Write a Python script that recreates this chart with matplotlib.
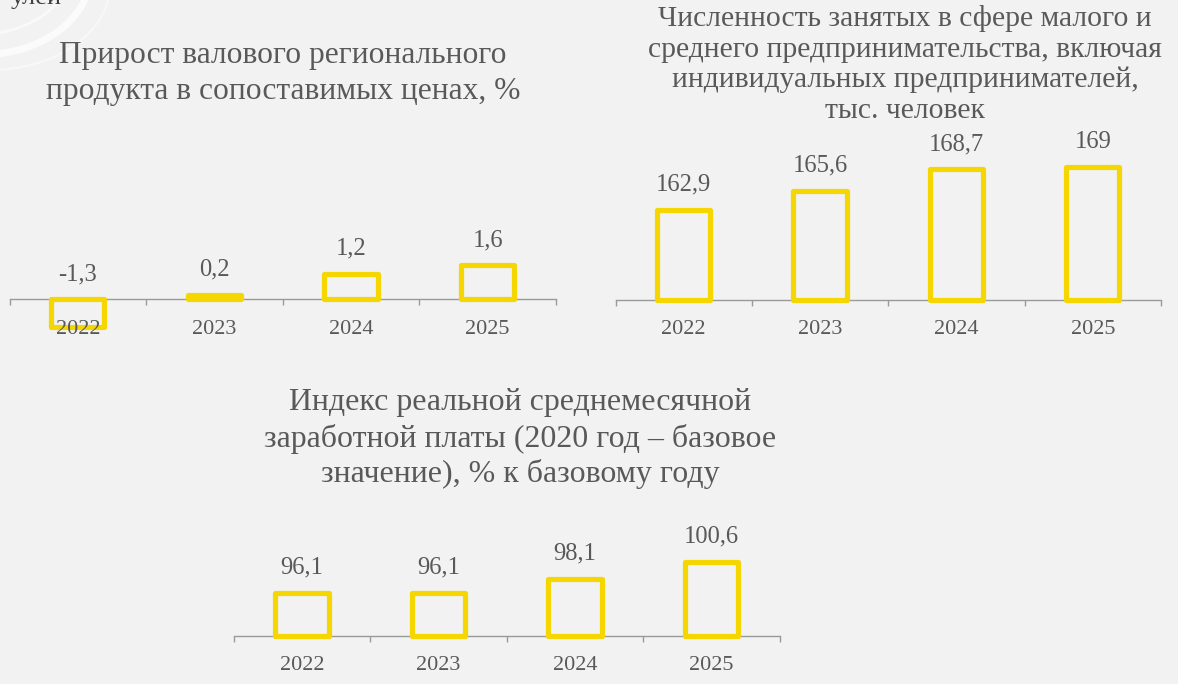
import matplotlib
matplotlib.use("Agg")
import matplotlib.pyplot as plt
from matplotlib.patches import Arc

# ---------------- data ----------------
years = ["2022", "2023", "2024", "2025"]
grp_growth = [-1.3, 0.2, 1.2, 1.6]
sme_employed = [162.9, 165.6, 168.7, 169.0]
real_wage_index = [96.1, 96.1, 98.1, 100.6]

title1 = ["Прирост валового регионального",
          "продукта в сопоставимых ценах, %"]
title2 = ["Численность занятых в сфере малого и",
          "среднего предпринимательства, включая",
          "индивидуальных предпринимателей,",
          "тыс. человек"]
title3 = ["Индекс реальной среднемесячной",
          "заработной платы (2020 год – базовое",
          "значение), % к базовому году"]

# ---------------- style ----------------
W, H = 1178, 684
BG = "#f2f2f2"
TXT = "#595959"
YEL = "#f5d600"
AXC = "#9a9a9a"
FONT = ["Liberation Serif", "DejaVu Serif"]
plt.rcParams["font.family"] = FONT

fig = plt.figure(figsize=(W / 100, H / 100), dpi=100, facecolor=BG)

# background decoration
bg = fig.add_axes([0, 0, 1, 1], zorder=-5)
bg.set_xlim(0, W)
bg.set_ylim(H, 0)
bg.axis("off")
bg.patch.set_alpha(0)
bg.add_patch(Arc((-20, -25), 220, 160, lw=5, color="white", alpha=0.75))
bg.add_patch(Arc((-25, -30), 190, 130, lw=2, color="white", alpha=0.6))
bg.add_patch(Arc((-10, -15), 240, 170, lw=1.5, color="white", alpha=0.5))
fig.text(62 / W, 1 - 4 / H, "улей", fontsize=19, color="#404040", va="baseline", ha="right")


def px_axes(x0, x1, y0, y1):
    ax = fig.add_axes([x0 / W, 1 - y1 / H, (x1 - x0) / W, (y1 - y0) / H])
    ax.patch.set_alpha(0)
    return ax


def style_axes(ax):
    for s in ["left", "right", "top"]:
        ax.spines[s].set_visible(False)
    ax.spines["bottom"].set_color(AXC)
    ax.spines["bottom"].set_linewidth(1.0)
    ax.set_xlim(-0.5, len(years) - 0.5)
    ax.set_xticks([i - 0.5 for i in range(len(years) + 1)])
    ax.set_xticklabels([])
    ax.tick_params(axis="x", length=4.3, width=1.0, color=AXC, direction="out")
    ax.set_yticks([])


def fmt(v):
    return f"{v:g}".replace(".", ",")


def draw_bars(ax, vals, base):
    x = list(range(len(vals)))
    ax.bar(x, [v - base for v in vals], bottom=base, width=0.39, facecolor="none",
           edgecolor=YEL, linewidth=3.75, joinstyle="round", zorder=3, clip_on=False)
    for xi, v in zip(x, vals):
        top = max(v, base)
        ax.annotate(fmt(v), (xi, top), xytext=(0, 13.8), textcoords="offset points",
                    ha="center", va="baseline", fontsize=17.7, color=TXT, zorder=5)
        ax.annotate(years[xi], (xi, base), xytext=(0, -25.2), textcoords="offset points",
                    ha="center", va="baseline", fontsize=16, color=TXT, zorder=6,
                    annotation_clip=False)


# ---------------- chart 1 ----------------
k1 = 21.2  # px per unit
ax1 = px_axes(9.5, 556, 140, 345)
ax1.set_ylim((299.3 - 345) / k1, (299.3 - 140) / k1)
style_axes(ax1)
ax1.spines["bottom"].set_position(("data", 0))
draw_bars(ax1, grp_growth, 0)

# ---------------- chart 2 ----------------
k2 = 6.97
ax2 = px_axes(615.5, 1161, 140, 299.5)
ax2.set_ylim(150, 150 + (299.5 - 140) / k2)
style_axes(ax2)
draw_bars(ax2, sme_employed, 150)

# ---------------- chart 3 ----------------
k3 = 6.98
ax3 = px_axes(233.7, 779.7, 500, 635.5)
ax3.set_ylim(90, 90 + (635.5 - 500) / k3)
style_axes(ax3)
draw_bars(ax3, real_wage_index, 90)

# ---------------- titles ----------------
renderer = fig.canvas.get_renderer()


def title_block(lines, baselines, cx, ref_idx, target_w, fs0=18):
    ts = [fig.text(cx / W, 1 - b / H, s, ha="center", va="baseline", fontsize=fs0, color=TXT)
          for s, b in zip(lines, baselines)]
    w = ts[ref_idx].get_window_extent(renderer).width
    fs = fs0 * target_w / w
    for t in ts:
        t.set_fontsize(fs)


title_block(title1, [63.3, 99.0], 283, 1, 474)
title_block(title2, [26.0, 56.7, 87.3, 118.3], 905, 1, 515)
title_block(title3, [410.0, 446.7, 481.7], 520, 1, 511)

fig.savefig("out.png", dpi=100, facecolor=BG)
